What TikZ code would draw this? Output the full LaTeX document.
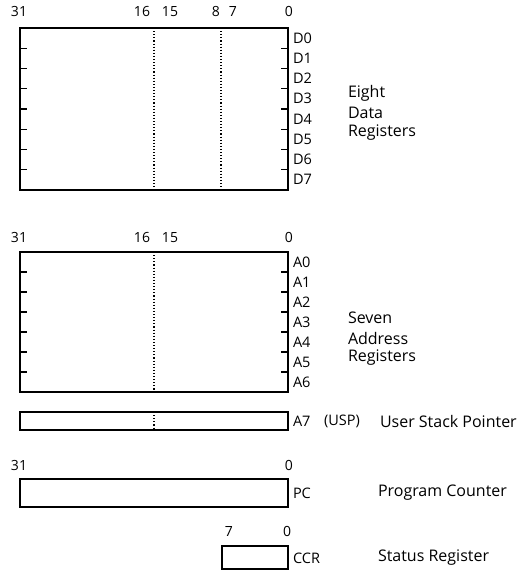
\documentclass[tikz,border=0pt]{standalone}
\usepackage{fontspec}
\setmainfont{Open Sans}
\begin{document}
\begin{tikzpicture}[x=1pt,y=-1pt,
  every node/.style={font=\fontsize{14.5}{16}\selectfont, inner sep=0pt, outer sep=0pt},
  regbox/.style={draw, line width=1.1pt, anchor=north west},
  divline/.style={dotted, line width=1.1pt},
  tickline/.style={line width=1.1pt},
  bitnum/.style={anchor=mid, font=\fontsize{14}{16}\selectfont},
  reglbl/.style={anchor=west},
  desc/.style={anchor=west, font=\fontsize{16}{18}\selectfont}]
\useasboundingbox (0,0) rectangle (527,576);
% ---------- data registers ----------
\node[bitnum] (d31) at (19,14) {31};
\node[bitnum] (d16) at (142,14) {16};
\node[bitnum] (d15) at (170,14) {15};
\node[bitnum] (d8) at (216,14) {8};
\node[bitnum] (d7) at (233,14) {7};
\node[bitnum] (d0) at (289,14) {0};
\node[regbox, minimum width=268pt, minimum height=162pt] (data) at (20,28) {};
\draw[divline] (154,28) -- (154,190);
\draw[divline] (221,28) -- (221,190);
\foreach \i in {1,...,7}{
  \draw[tickline] (20,{28+20.25*\i}) -- ++(7,0);
  \draw[tickline] (288,{28+20.25*\i}) -- ++(-7,0);
}
\foreach \i in {0,...,7}{
  \node[reglbl] (D\i) at (293,{38+20.25*\i}) {D\i};
}
\node[desc] (eight) at (348,93) {Eight};
\node[desc] (datal) at (348,113) {Data};
\node[desc] (dregs) at (348,133) {Registers};
% ---------- address registers ----------
\node[bitnum] (a31) at (19,240) {31};
\node[bitnum] (a16) at (142,240) {16};
\node[bitnum] (a15) at (170,240) {15};
\node[bitnum] (a0) at (289,240) {0};
\node[regbox, minimum width=268pt, minimum height=140pt] (addr) at (20,252) {};
\draw[divline] (154,252) -- (154,392);
\foreach \i in {1,...,6}{
  \draw[tickline] (20,{252+20*\i}) -- ++(7,0);
  \draw[tickline] (288,{252+20*\i}) -- ++(-7,0);
}
\foreach \i in {0,...,6}{
  \node[reglbl] (A\i) at (293,{262+20*\i}) {A\i};
}
\node[desc] (seven) at (348,318) {Seven};
\node[desc] (addrl) at (348,338) {Address};
\node[desc] (aregs) at (348,358) {Registers};
% ---------- A7 ----------
\node[regbox, minimum width=268pt, minimum height=18pt] (usp) at (20,412) {};
\draw[divline] (154,412) -- (154,430);
\node[reglbl] (A7) at (293,421) {A7};
\node[reglbl] (uspl) at (324,421) {(USP)};
\node[desc] (uspd) at (380,421) {User Stack Pointer};
% ---------- PC ----------
\node[bitnum] (p31) at (19,468) {31};
\node[bitnum] (p0) at (289,468) {0};
\node[regbox, minimum width=268pt, minimum height=28pt] (pc) at (20,479) {};
\node[reglbl] (PC) at (293,493) {PC};
\node[desc] (pcd) at (378,493) {Program Counter};
% ---------- CCR ----------
\node[bitnum] (c7) at (229,534) {7};
\node[bitnum] (c0) at (287,534) {0};
\node[regbox, minimum width=66pt, minimum height=23pt] (ccr) at (222,546) {};
\node[reglbl] (CCR) at (293,558) {CCR};
\node[desc] (ccrd) at (378,558) {Status Register};
\end{tikzpicture}
\end{document}
